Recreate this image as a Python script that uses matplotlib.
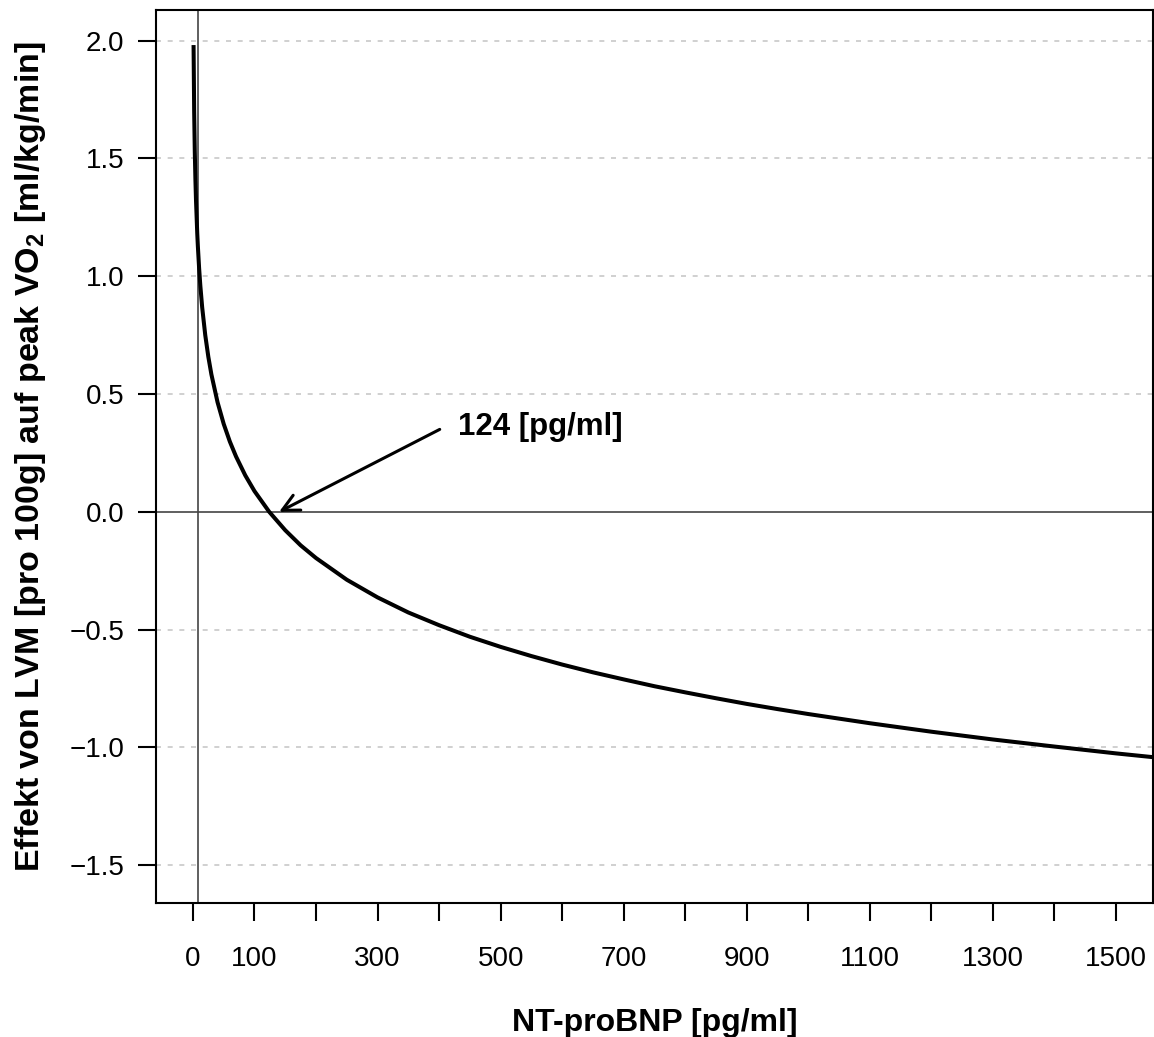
"""Effect of LVM on peak VO2 as a function of NT-proBNP."""

import matplotlib

matplotlib.use("Agg")
import matplotlib.pyplot as plt

plt.rcParams["font.family"] = ["Liberation Sans", "DejaVu Sans"]
plt.rcParams["mathtext.fontset"] = "custom"
plt.rcParams["mathtext.rm"] = "Liberation Sans"
plt.rcParams["mathtext.bf"] = "Liberation Sans:bold"

# values
ntprobnp = [1, 2, 3, 4, 5, 7, 8, 10, 12, 15, 20, 25, 30, 40, 50, 60, 70, 85,
            100, 124, 150, 175, 200, 250, 300, 350, 400, 450, 500, 550, 600,
            650, 700, 750, 800, 850, 900, 950, 1000, 1100, 1200, 1300, 1400,
            1500, 1560]
effekt = [1.981, 1.696, 1.529, 1.411, 1.320, 1.181, 1.127, 1.035, 0.960,
          0.868, 0.750, 0.658, 0.583, 0.465, 0.373, 0.298, 0.235, 0.155,
          0.088, 0.0, -0.078, -0.142, -0.196, -0.288, -0.363, -0.427, -0.481,
          -0.530, -0.573, -0.612, -0.648, -0.681, -0.711, -0.740, -0.766,
          -0.791, -0.815, -0.837, -0.858, -0.897, -0.933, -0.966, -0.996,
          -1.025, -1.041]

x_ticks = list(range(0, 1600, 100))
x_labels = ["0", "100", "", "300", "", "500", "", "700", "", "900", "",
            "1100", "", "1300", "", "1500"]
y_ticks = [-1.5, -1.0, -0.5, 0.0, 0.5, 1.0, 1.5, 2.0]

cutoff = 124
vline_x = 8

fig = plt.figure(figsize=(11.54, 10.37), dpi=100)
ax = fig.add_axes([0.1352, 0.1292, 0.8639, 0.8612])

# grid at y ticks (dotted light gray), skipping zero
for yv in y_ticks:
    if yv != 0:
        ax.axhline(yv, color="#c8c8c8", ls=(0, (3, 4)), lw=1.2, zorder=1)
ax.axhline(0, color="#444444", lw=1.2, zorder=2)
ax.axvline(vline_x, color="#444444", lw=1.2, zorder=2)

ax.plot(ntprobnp, effekt, color="black", lw=2.9, zorder=3,
        solid_capstyle="butt", solid_joinstyle="round")

ax.annotate("", xy=(140, 0.0), xytext=(401, 0.35),
            arrowprops=dict(arrowstyle="->", color="black", lw=2.2,
                            mutation_scale=30, shrinkA=0, shrinkB=0))
ax.text(431, 0.36, f"{cutoff} [pg/ml]", fontsize=22.5, fontweight="bold",
        ha="left", va="center")

ax.set_xlim(-60, 1560)
ax.set_ylim(-1.66, 2.13)
ax.set_xticks(x_ticks)
ax.set_xticklabels(x_labels)
ax.set_yticks(y_ticks)
ax.set_yticklabels([f"{v:.1f}".replace("-", "\u2212") for v in y_ticks])
ax.tick_params(axis="both", labelsize=20, length=13, width=1.5, direction="out")
ax.tick_params(axis="x", pad=18)
ax.tick_params(axis="y", pad=10)
for sp in ax.spines.values():
    sp.set_linewidth(1.5)

ax.set_xlabel("NT-proBNP [pg/ml]", fontsize=23, fontweight="bold", labelpad=26)
ax.set_ylabel(r"Effekt von LVM [pro 100g] auf peak VO$_\mathbf{2}$ [ml/kg/min]",
              fontsize=24.5, fontweight="bold", labelpad=15)

fig.savefig("out.png", dpi=100)
plt.close(fig)
